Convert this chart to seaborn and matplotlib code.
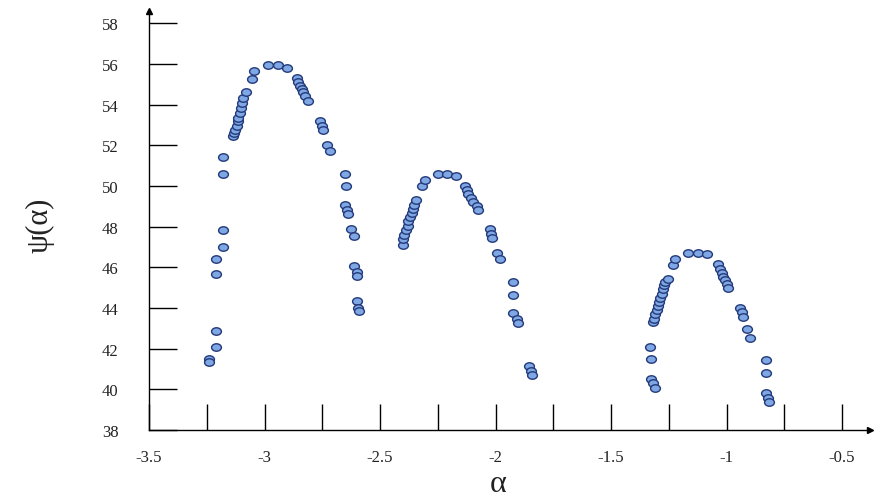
import numpy as np
import pandas as pd
import seaborn as sns
import matplotlib.pyplot as plt
from matplotlib.path import Path
from matplotlib.markers import MarkerStyle

# Multifractal spectrum psi(alpha): three branches of points
alpha_1 = [-3.239, -3.239, -3.21, -3.21, -3.21, -3.21, -3.18, -3.18, -3.18, -3.178,
           -3.135, -3.131, -3.128, -3.12, -3.116, -3.113, -3.106, -3.102, -3.099, -3.092, -3.081,
           -3.053, -3.044, -2.984, -2.94, -2.903,
           -2.861, -2.854, -2.846, -2.839, -2.832, -2.825, -2.813,
           -2.76, -2.752, -2.745, -2.731, -2.716,
           -2.652, -2.648, -2.652, -2.642, -2.637, -2.627, -2.613, -2.611, -2.601, -2.601,
           -2.601, -2.594, -2.592]
psi_1 = [41.47, 41.34, 42.06, 42.85, 45.65, 46.42, 47.01, 47.81, 50.6, 51.43,
         52.44, 52.6, 52.77, 52.97, 53.18, 53.34, 53.59, 53.84, 54.08, 54.33, 54.6,
         55.26, 55.63, 55.93, 55.93, 55.8,
         55.31, 55.11, 54.93, 54.77, 54.6, 54.4, 54.16,
         53.18, 52.93, 52.73, 52.03, 51.7,
         50.61, 49.98, 49.04, 48.81, 48.6, 47.86, 47.56, 46.05, 45.76, 45.56,
         44.34, 44.01, 43.84]

alpha_2 = [-2.399, -2.399, -2.395, -2.389, -2.38, -2.377, -2.37, -2.363, -2.356, -2.351, -2.344,
           -2.319, -2.305, -2.25, -2.209, -2.171,
           -2.132, -2.125, -2.118, -2.106, -2.096, -2.081, -2.074,
           -2.024, -2.019, -2.014, -1.995, -1.981,
           -1.923, -1.923, -1.923, -1.908, -1.904, -1.854, -1.846, -1.843]
psi_2 = [47.12, 47.37, 47.61, 47.82, 48.05, 48.27, 48.48, 48.68, 48.87, 49.08, 49.3,
         49.98, 50.31, 50.61, 50.61, 50.51,
         50.02, 49.82, 49.61, 49.41, 49.2, 49.0, 48.84,
         47.86, 47.66, 47.45, 46.71, 46.42,
         45.27, 44.66, 43.73, 43.47, 43.27, 41.14, 40.9, 40.69]

alpha_3 = [-1.331, -1.328, -1.328, -1.319, -1.31,
           -1.317, -1.312, -1.31, -1.302, -1.295, -1.291, -1.288, -1.281, -1.276, -1.271, -1.266, -1.255,
           -1.23, -1.223, -1.165, -1.122, -1.086,
           -1.036, -1.028, -1.021, -1.014, -1.006, -0.999, -0.992,
           -0.942, -0.934, -0.927, -0.91, -0.898,
           -0.829, -0.829, -0.829, -0.819, -0.815]
psi_3 = [42.1, 41.47, 40.52, 40.29, 40.08,
         43.3, 43.47, 43.68, 43.9, 44.09, 44.29, 44.5, 44.71, 44.91, 45.11, 45.27, 45.44,
         46.09, 46.42, 46.71, 46.71, 46.63,
         46.14, 45.93, 45.73, 45.53, 45.37, 45.2, 44.99,
         44.01, 43.8, 43.57, 42.95, 42.54,
         41.44, 40.82, 39.84, 39.59, 39.38]

y_ticks = [38, 40, 42, 44, 46, 48, 50, 52, 54, 56, 58]
x_ticks = [-3.5, -3.25, -3.0, -2.75, -2.5, -2.25, -2.0, -1.75, -1.5, -1.25, -1.0, -0.75, -0.5]
x_ticklabels = ["-3.5", "", "-3", "", "-2.5", "", "-2", "", "-1.5", "", "-1", "", "-0.5"]

df = pd.concat([
    pd.DataFrame({"alpha": alpha_1, "psi": psi_1, "branch": 1}),
    pd.DataFrame({"alpha": alpha_2, "psi": psi_2, "branch": 2}),
    pd.DataFrame({"alpha": alpha_3, "psi": psi_3, "branch": 3}),
], ignore_index=True)

sns.set_theme(style="white")
plt.rcParams["font.family"] = ["Liberation Serif", "DejaVu Serif"]

fig = plt.figure(figsize=(8.75, 5.02), dpi=100)
ax = fig.add_axes([149 / 875, (502 - 431) / 502, (870 - 149) / 875, (431 - 12) / 502])

# slightly flattened round marker
circ = Path.unit_circle()
ellipse = Path(circ.vertices * np.array([1.0, 0.76]), circ.codes)

sns.scatterplot(data=df, x="alpha", y="psi", ax=ax, marker=MarkerStyle(ellipse),
                s=50, color="#7fa7e4", edgecolor="#22397a", linewidth=1.0,
                legend=False, zorder=3)

ax.set_xlim(-3.5, -0.379)
ax.set_ylim(38, 58.6)

for side in ["top", "right"]:
    ax.spines[side].set_visible(False)
for side in ["left", "bottom"]:
    ax.spines[side].set_color("black")
    ax.spines[side].set_linewidth(1.0)

ax.set_yticks(y_ticks)
ax.set_yticklabels([str(v) for v in y_ticks])
ax.set_xticks(x_ticks)
ax.set_xticklabels(x_ticklabels)
ax.tick_params(axis="y", direction="in", length=20, width=1.0, color="black",
               pad=22, labelsize=12, labelcolor="#222222", left=True)
ax.tick_params(axis="x", direction="in", length=19, width=1.0, color="black",
               pad=14, labelsize=12, labelcolor="#222222", bottom=True)

# arrow heads at the ends of the axes
ax.plot([1], [0], marker=">", color="black", markersize=5, transform=ax.transAxes, clip_on=False)
ax.plot([0], [1], marker="^", color="black", markersize=5, transform=ax.transAxes, clip_on=False)

ax.set_xlabel("")
ax.set_ylabel("")
ax.text(-0.151, 0.49, "ψ(α)", transform=ax.transAxes, rotation=90,
        ha="center", va="center", fontsize=22, color="#222222")
ax.text(0.484, -0.128, "α", transform=ax.transAxes,
        ha="center", va="center", fontsize=23, color="#222222")

fig.savefig("out.png", dpi=100)
